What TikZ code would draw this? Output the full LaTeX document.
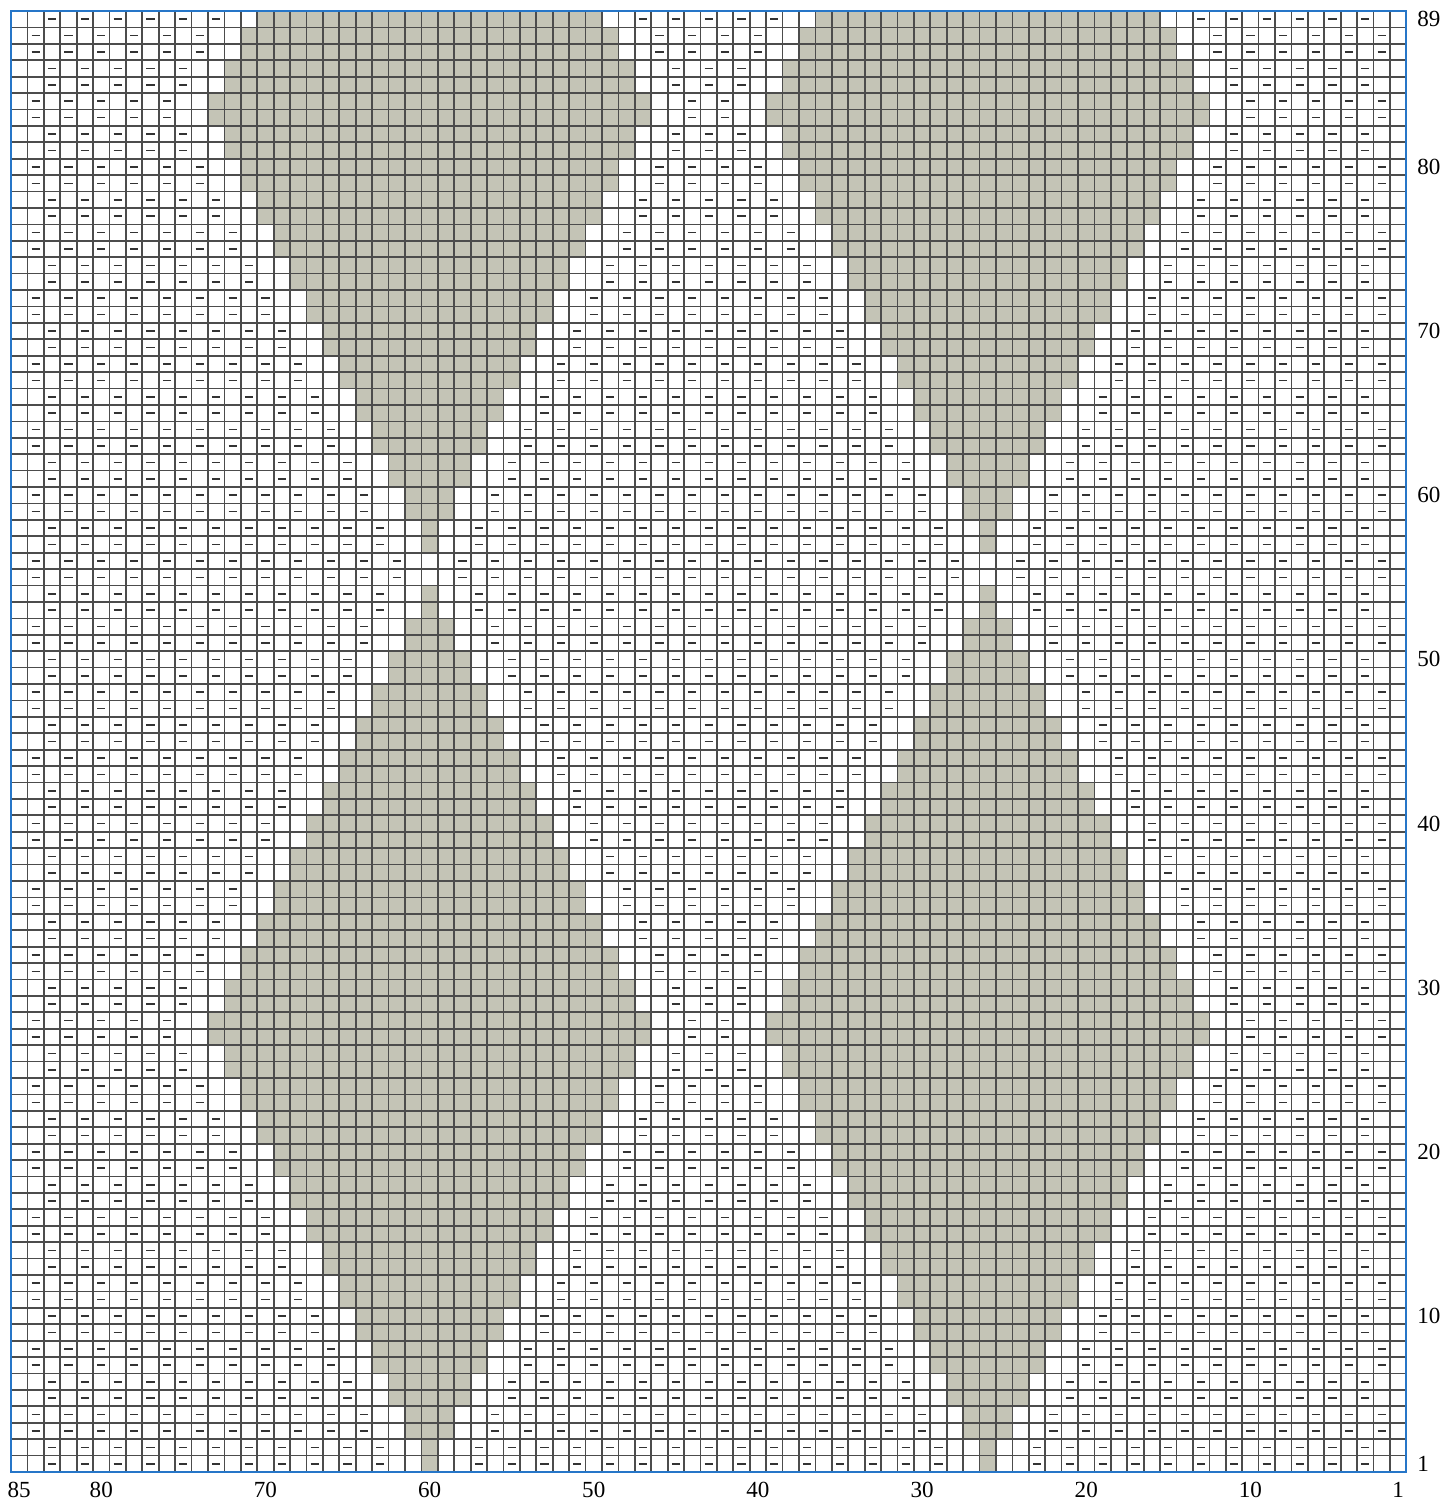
\documentclass[tikz,border=0pt]{standalone}
\usepackage{fontspec}
\setmainfont{Liberation Serif}
\usepackage{tikz}

\definecolor{knitgray}{RGB}{196,196,182}
\definecolor{chartblue}{RGB}{38,118,200}

% half width of a shaded diamond row (-5 = nothing shaded in that row)
\newcommand{\halfw}[2]{%
  \pgfmathtruncatemacro\hwrow{#1>56 ? #1-56 : #1}%
  \pgfmathtruncatemacro\hwk{(\hwrow+1)/2}%
  \pgfmathtruncatemacro#2{(#1<1 || #1>89 || \hwrow>54) ? -5 : min(\hwk-1,27-\hwk)}}

\begin{document}
\begin{tikzpicture}[
    x=0.3cm, y=0.3cm,
    font=\fontsize{12}{14}\selectfont,
    knit/.style={fill=knitgray},
    gridline/.style={line width=0.9pt, black!70},
    purl/.style={line width=0.85pt, black!80},
    frame/.style={line width=1.1pt, chartblue},
    colnum/.style={anchor=center, inner sep=0pt},
    rownum/.style={anchor=west, inner sep=0pt}
]
\useasboundingbox (-0.67,-1.705) rectangle (87.15,89.67);

% ===== SHADED DIAMONDS (centres on st 60 and st 26) =====
\foreach \rw in {1,...,89}{
  \halfw{\rw}{\hwmid}
  \ifnum\hwmid>-1
    \fill[knit] (25-\hwmid,\rw-1) rectangle (26+\hwmid,\rw);
    \fill[knit] (59-\hwmid,\rw-1) rectangle (60+\hwmid,\rw);
  \fi
}

% ===== GRID =====
\draw[gridline] (0,0) grid[step=1] (85,89);

% ===== PURL SYMBOLS (double moss, kept off the diamonds' edges) =====
\foreach \rw in {1,...,89}{
  \pgfmathtruncatemacro\rwlo{\rw-1}
  \pgfmathtruncatemacro\rwhi{\rw+1}
  \halfw{\rw}{\hwmid}
  \halfw{\rwlo}{\hwlo}
  \halfw{\rwhi}{\hwhi}
  \foreach \cc in {2,...,84}{
    \pgfmathtruncatemacro\ispurl{mod(\cc+int((\rw-1)/2),2)==1}
    \ifnum\ispurl=1
      \pgfmathtruncatemacro\nearby{(abs(\cc-60)<=\hwmid+1) || (abs(\cc-60)<=\hwlo)
        || (abs(\cc-60)<=\hwhi) || (abs(\cc-26)<=\hwmid+1)
        || (abs(\cc-26)<=\hwlo) || (abs(\cc-26)<=\hwhi)}
      \ifnum\nearby=0
        \draw[purl] (85.25-\cc,\rw-0.5) -- (85.75-\cc,\rw-0.5);
      \fi
    \fi
  }
}

% ===== FRAME =====
\draw[frame] (0,0) rectangle (85,89);

% ===== NUMBERS =====
\foreach \cc in {85,80,70,60,50,40,30,20,10,1}
  \node[colnum] (col\cc) at (85.5-\cc,-1.1) {\cc};
\foreach \rw in {1,10,20,30,40,50,60,70,80,89}
  \node[rownum] (row\rw) at (85.65,\rw-0.5) {\rw};
\end{tikzpicture}
\end{document}
